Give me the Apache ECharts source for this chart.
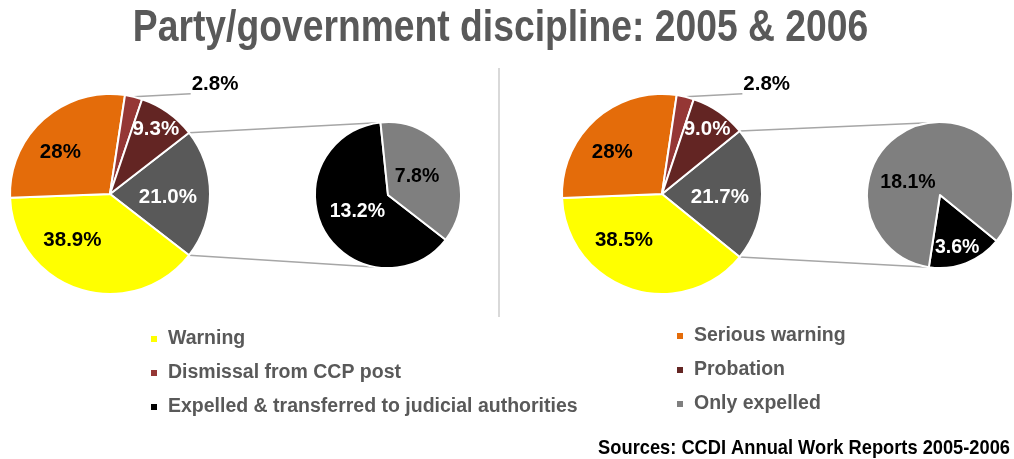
<!DOCTYPE html>
<html>
<head>
<meta charset="utf-8">
<script src="https://cdn.jsdelivr.net/npm/echarts@6/dist/echarts.min.js"></script>
<style>
html,body{margin:0;padding:0;background:#fff;}
#chart{width:1014px;height:459px;}
</style>
</head>
<body>
<div id="chart"></div>
<script>
// ---------------- DATA ----------------
const titleText = 'Party/government discipline: 2005 & 2006';
const sourceText = 'Sources: CCDI Annual Work Reports 2005-2006';
const mainCategories = ['Warning', 'Serious warning', 'Dismissal from CCP post', 'Probation'];
const subCategories = ['Expelled & transferred to judicial authorities', 'Only expelled'];
const otherName = 'Expelled (total)';
const main2005 = [38.9, 28, 2.8, 9.3];
const main2006 = [38.5, 28, 2.8, 9.0];
const sub2005 = [13.2, 7.8];
const sub2006 = [3.6, 18.1];
const legendLeft = ['Warning', 'Dismissal from CCP post', 'Expelled & transferred to judicial authorities'];
const legendRight = ['Serious warning', 'Probation', 'Only expelled'];

// ---------------- STYLE / LAYOUT ----------------
const FONT = "'Liberation Sans',Arial,sans-serif";
const COLORS = {
  'Warning': '#FFFF00',
  'Serious warning': '#E46C0A',
  'Dismissal from CCP post': '#953735',
  'Probation': '#632523',
  'Expelled (total)': '#595959',
  'Expelled & transferred to judicial authorities': '#000000',
  'Only expelled': '#7F7F7F'
};
const TEXTCOL = {
  'Warning': '#000', 'Serious warning': '#000', 'Dismissal from CCP post': '#000',
  'Probation': '#fff', 'Expelled (total)': '#fff',
  'Expelled & transferred to judicial authorities': '#fff', 'Only expelled': '#000'
};
const R_MAIN = 100, R_SUB = 73;
const PANELS = [
  {main: main2005, sub: sub2005, mc: [110, 194], sc: [388, 195],
   place: {'Warning': [0.6, -21], 'Serious warning': [0.65, 8], 'Probation': [0.79, 0], 'Expelled (total)': [0.58, -3],
           'Expelled & transferred to judicial authorities': [0.48, 0], 'Only expelled': [0.47, 3]}},
  {main: main2006, sub: sub2006, mc: [662, 194], sc: [940, 195],
   place: {'Warning': [0.6, -21], 'Serious warning': [0.65, 8], 'Probation': [0.79, 0], 'Expelled (total)': [0.58, -3],
           'Expelled & transferred to judicial authorities': [0.76, -3], 'Only expelled': [0.47, 48]}}
];

function fmt(name, v) {
  return (name === 'Serious warning' ? v.toFixed(0) : v.toFixed(1)) + '%';
}
const rad = d => d * Math.PI / 180;

const series = [];
const labelPos = {};
const graphics = [];

PANELS.forEach((p, k) => {
  const other = p.sub.reduce((a, b) => a + b, 0);
  const mainTotal = other + p.main.reduce((a, b) => a + b, 0);
  const subTotal = other;
  const half = other / mainTotal * 180;
  const mainNames = [otherName].concat(mainCategories);
  const mainVals = [other].concat(p.main);
  const mainStart = half;
  const subStart = (360 - half) % 360;
  const outsideIdx = mainNames.indexOf('Dismissal from CCP post');

  function anchors(names, vals, total, start, c, r) {
    let a = start;
    return names.map((n, i) => {
      const sweep = vals[i] / total * 360;
      const mid = a - sweep / 2;
      a -= sweep;
      if (n === 'Dismissal from CCP post') {
        const e = [c[0] + r * Math.cos(rad(mid)), c[1] - r * Math.sin(rad(mid))];
        const end = [e[0] + 57, e[1] - 3];
        return {line: [e, e, end], x: end[0] + 1, y: end[1] - 9};
      }
      const pl = p.place[n] || [0.5, 0];
      const ang = rad(mid + pl[1]);
      return {x: c[0] + r * pl[0] * Math.cos(ang), y: c[1] - r * pl[0] * Math.sin(ang)};
    });
  }
  const mIdx = series.length;
  labelPos[mIdx] = anchors(mainNames, mainVals, mainTotal, mainStart, p.mc, R_MAIN);
  series.push({
    type: 'pie', id: 'main' + k, center: p.mc, radius: R_MAIN,
    startAngle: mainStart, clockwise: true, animation: false,
    avoidLabelOverlap: false, emphasis: {disabled: true},
    itemStyle: {borderColor: '#fff', borderWidth: 2},
    label: {show: true, position: 'inside', fontFamily: FONT, fontWeight: 'bold', fontSize: 20.5,
            formatter: q => fmt(q.name, q.value)},
    labelLine: {show: false},
    labelLayout: q => {
      const lp = labelPos[mIdx][q.dataIndex];
      if (lp.line) return {x: lp.x, y: lp.y, align: 'left', verticalAlign: 'middle', labelLinePoints: lp.line};
      return {x: lp.x, y: lp.y};
    },
    data: mainNames.map((n, i) => {
      const d = {name: n, value: mainVals[i], itemStyle: {color: COLORS[n]}, label: {color: TEXTCOL[n]}};
      if (i === outsideIdx) {
        d.label = {color: '#000', position: 'outside'};
        d.labelLine = {show: true, length: 5, length2: 50, smooth: false,
                       lineStyle: {color: '#A6A6A6', width: 1.5}};
      }
      return d;
    })
  });
  const sIdx = series.length;
  labelPos[sIdx] = anchors(subCategories, p.sub, subTotal, subStart, p.sc, R_SUB);
  series.push({
    type: 'pie', id: 'sub' + k, center: p.sc, radius: R_SUB,
    startAngle: subStart, clockwise: true, animation: false,
    avoidLabelOverlap: false, emphasis: {disabled: true},
    itemStyle: {borderColor: '#fff', borderWidth: 2},
    label: {show: true, position: 'inside', fontFamily: FONT, fontWeight: 'bold', fontSize: 19.5,
            formatter: q => fmt(q.name, q.value)},
    labelLine: {show: false},
    labelLayout: q => ({x: labelPos[sIdx][q.dataIndex].x, y: labelPos[sIdx][q.dataIndex].y}),
    data: subCategories.map((n, i) => ({name: n, value: p.sub[i], itemStyle: {color: COLORS[n]}, label: {color: TEXTCOL[n]}}))
  });

  // connector lines: main "other" slice corners -> top/bottom of the secondary pie
  [1, -1].forEach(s => {
    const a1 = rad(s * half), a2 = rad(s * 98);
    graphics.push({
      type: 'line', silent: true, z: 0,
      shape: {x1: p.mc[0] + R_MAIN * Math.cos(a1), y1: p.mc[1] - R_MAIN * Math.sin(a1),
              x2: p.sc[0] + R_SUB * Math.cos(a2), y2: p.sc[1] - R_SUB * Math.sin(a2)},
      style: {stroke: '#A6A6A6', lineWidth: 1.6}
    });
  });
});

// divider
graphics.push({type: 'line', silent: true, shape: {x1: 499, y1: 68, x2: 499, y2: 317},
               style: {stroke: '#D9D9D9', lineWidth: 2}});
// title and source (condensed like the original narrow typeface)
graphics.push({type: 'text', x: 500.5, y: 29, scaleX: 0.847, silent: true,
  style: {text: titleText, align: 'center', verticalAlign: 'middle',
          font: "bold 44px 'Liberation Sans', Arial, sans-serif", fill: '#595959'}});
graphics.push({type: 'text', x: 1010, y: 448, scaleX: 0.87, silent: true,
  style: {text: sourceText, align: 'right', verticalAlign: 'middle',
          font: "bold 21px 'Liberation Sans', Arial, sans-serif", fill: '#000'}});

const legendCommon = {
  orient: 'vertical', icon: 'rect', itemWidth: 8, itemHeight: 8, itemGap: 14,
  selectedMode: false,
  textStyle: {fontFamily: FONT, fontWeight: 'bold', fontSize: 19.5, color: '#595959', padding: [0, 0, 0, 5]}
};

const option = {
  backgroundColor: '#fff',
  animation: false,
  legend: [
    Object.assign({left: 144, top: 324, data: legendLeft}, legendCommon),
    Object.assign({left: 670, top: 321, data: legendRight}, legendCommon)
  ],
  graphic: graphics,
  series: series
};

const chart = echarts.init(document.getElementById('chart'), null, {renderer: 'canvas'});
chart.setOption(option);
</script>
</body>
</html>
